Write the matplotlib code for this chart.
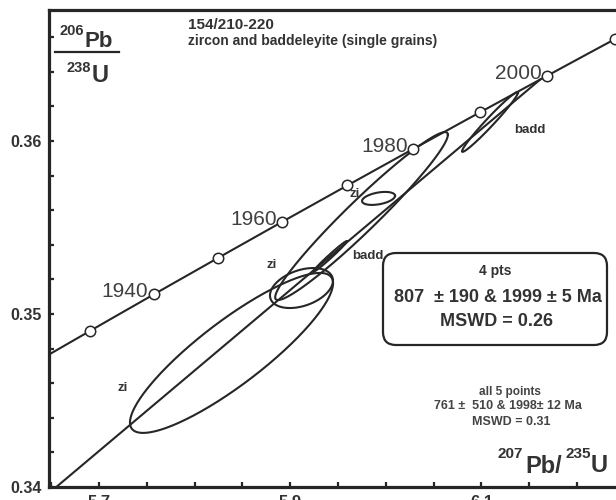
import numpy as np
import matplotlib
matplotlib.use("Agg")
import matplotlib.pyplot as plt
from matplotlib.patches import FancyBboxPatch
from matplotlib.lines import Line2D
from matplotlib.ticker import FixedLocator, MultipleLocator

plt.rcParams['font.family'] = ['Liberation Sans', 'DejaVu Sans']

# ---- data -------------------------------------------------------------
LAMBDA_238 = 1.55125e-10   # decay constants (1/yr)
LAMBDA_235 = 9.8485e-10

concordia_ages = [1930, 1940, 1950, 1960, 1970, 1980, 1990, 2000, 2010]   # Ma, marker ages
labelled_ages = [1940, 1960, 1980, 2000]

# analyses: 207Pb/235U centre, 206Pb/238U centre, x-error, y-error, correlation
ell_labels = ["zi", "zi", "badd", "zi", "zi", "badd"]
ell_x   = [5.8385, 5.9117, 5.9415, 5.9745, 5.9923, 6.1089]
ell_y   = [0.34775, 0.35150, 0.35332, 0.35566, 0.35668, 0.36110]
ell_sx  = [0.1062, 0.03295, 0.01778, 0.09032, 0.01726, 0.02929]
ell_sy  = [0.004624, 0.001156, 0.000896, 0.004855, 0.000376, 0.00173]
ell_rho = [0.87, 0.37, 0.988, 0.967, 0.40, 0.98]

lower_intercept = 807    # Ma
upper_intercept = 1999   # Ma

x_ticks = [5.7, 5.9, 6.1]
y_ticks = [0.34, 0.35, 0.36]

# ---- helpers ----------------------------------------------------------
def conc(t_ma):
    t = np.asarray(t_ma, dtype=float) * 1e6
    return np.exp(LAMBDA_235 * t) - 1, np.exp(LAMBDA_238 * t) - 1

def ellipse(cx, cy, sx, sy, rho, n=300):
    t = np.linspace(0, 2 * np.pi, n)
    x = cx + sx * np.cos(t)
    y = cy + sy * (rho * np.cos(t) + np.sqrt(1 - rho ** 2) * np.sin(t))
    return x, y

W, H = 616, 500
def fx(x): return x / W
def fy(y): return 1 - y / H

INK = '#262626'
TXT = '#333333'

fig = plt.figure(figsize=(W / 100, H / 100), dpi=100)
fig.patch.set_facecolor('white')
ax = fig.add_axes([fx(49), fy(487), fx(616) - fx(49), fy(10) - fy(487)])
ax.set_xlim(5.6476, 6.2407)
ax.set_ylim(0.34, 0.36757)

# concordia curve
tt = np.linspace(1900, 2040, 400)
cx_, cy_ = conc(tt)
ax.plot(cx_, cy_, color=INK, lw=1.5, zorder=3)
mx, my = conc(concordia_ages)
ax.plot(mx, my, 'o', ms=7.5, mfc='white', mec=INK, mew=1.1, zorder=5)
for a in labelled_ages:
    px_, py_ = conc(a)
    ax.annotate(str(a), (px_, py_), xytext=(-4, -2), textcoords='offset points',
                ha='right', va='baseline', fontsize=15, color='#404040', zorder=6)

# discordia
dx, dy = conc([lower_intercept, upper_intercept])
ax.plot(dx, dy, color=INK, lw=1.5, zorder=3)

# error ellipses
for i in range(len(ell_x)):
    ex, ey = ellipse(ell_x[i], ell_y[i], ell_sx[i], ell_sy[i], ell_rho[i])
    ax.plot(ex, ey, color=INK, lw=1.5, zorder=4)

# ellipse labels (pixel positions)
lab_pos = [(123, 388), (272, 265), (368, 256), None, (355, 194), (530, 130)]
lab_txt = ["zi", "zi", "badd", None, "zi", "badd"]
for p, s in zip(lab_pos, lab_txt):
    if p is None:
        continue
    fig.text(fx(p[0]), fy(p[1]), s, ha='center', va='center', fontsize=9.5,
             fontweight='bold', color=TXT)

# axes styling
for s in ['left', 'bottom', 'top']:
    ax.spines[s].set_linewidth(2.3)
    ax.spines[s].set_color(INK)
ax.spines['right'].set_visible(False)
ax.xaxis.set_major_locator(FixedLocator(x_ticks))
ax.xaxis.set_minor_locator(MultipleLocator(0.05))
ax.yaxis.set_major_locator(FixedLocator(y_ticks))
ax.yaxis.set_minor_locator(MultipleLocator(0.002))
ax.set_xticklabels([f"{v:.1f}" for v in x_ticks])
ax.set_yticklabels([f"{v:.2f}" for v in y_ticks])
ax.tick_params(which='both', direction='in', length=3.5, width=1.6, color=INK,
               top=False, right=False)
ax.tick_params(axis='y', which='major', pad=5, labelsize=11.5, labelcolor=TXT)
ax.tick_params(axis='x', which='major', pad=6, labelsize=12, labelcolor=TXT)
for lab in ax.get_xticklabels() + ax.get_yticklabels():
    lab.set_fontweight('bold')

# title texts
fig.text(fx(188), fy(29), "154/210-220", ha='left', va='baseline', fontsize=11,
         fontweight='bold', color=TXT)
fig.text(fx(188), fy(45), "zircon and baddeleyite (single grains)", ha='left',
         va='baseline', fontsize=10, fontweight='bold', color=TXT)

# y label as fraction
fig.text(fx(84), fy(35), "206", ha='right', va='baseline', fontsize=10.5,
         fontweight='bold', color=TXT)
fig.text(fx(85), fy(47), "Pb", ha='left', va='baseline', fontsize=16,
         fontweight='bold', color=TXT)
fig.add_artist(Line2D([fx(55), fx(119)], [fy(52), fy(52)], color=INK, lw=1.6))
fig.text(fx(91), fy(72), "238", ha='right', va='baseline', fontsize=10.5,
         fontweight='bold', color=TXT)
fig.text(fx(92), fy(82), "U", ha='left', va='baseline', fontsize=17,
         fontweight='bold', color=TXT)

# x label
fig.text(fx(523), fy(458), "207", ha='right', va='baseline', fontsize=11,
         fontweight='bold', color=TXT)
fig.text(fx(525), fy(473), "Pb/", ha='left', va='baseline', fontsize=17,
         fontweight='bold', color=TXT)
fig.text(fx(565), fy(458), "235", ha='left', va='baseline', fontsize=11,
         fontweight='bold', color=TXT)
fig.text(fx(591), fy(472), "U", ha='left', va='baseline', fontsize=17,
         fontweight='bold', color=TXT)

# result box
box = FancyBboxPatch((3.83, (H - 345) / 100), 2.24, 0.92,
                     boxstyle="round,pad=0,rounding_size=0.13",
                     transform=fig.dpi_scale_trans, fc='white', ec=INK, lw=1.6,
                     zorder=10)
fig.add_artist(box)
fig.text(fx(495), fy(271), "4 pts", ha='center', va='center', fontsize=10,
         fontweight='bold', color=TXT, zorder=11)
fig.text(fx(498), fy(297), "807  \u00b1 190 & 1999 \u00b1 5 Ma", ha='center',
         va='center', fontsize=13, fontweight='bold', color=TXT, zorder=11)
fig.text(fx(496), fy(322), "MSWD = 0.26", ha='center', va='center', fontsize=13,
         fontweight='bold', color=TXT, zorder=11)

# all-points result
fig.text(fx(510), fy(392), "all 5 points", ha='center', va='center', fontsize=8.5,
         fontweight='bold', color='#444444')
fig.text(fx(508), fy(406), "761 \u00b1  510 & 1998\u00b1 12 Ma", ha='center',
         va='center', fontsize=9, fontweight='bold', color='#444444')
fig.text(fx(511), fy(422), "MSWD = 0.31", ha='center', va='center', fontsize=9,
         fontweight='bold', color='#444444')

fig.savefig("out.png", dpi=100, facecolor='white')
